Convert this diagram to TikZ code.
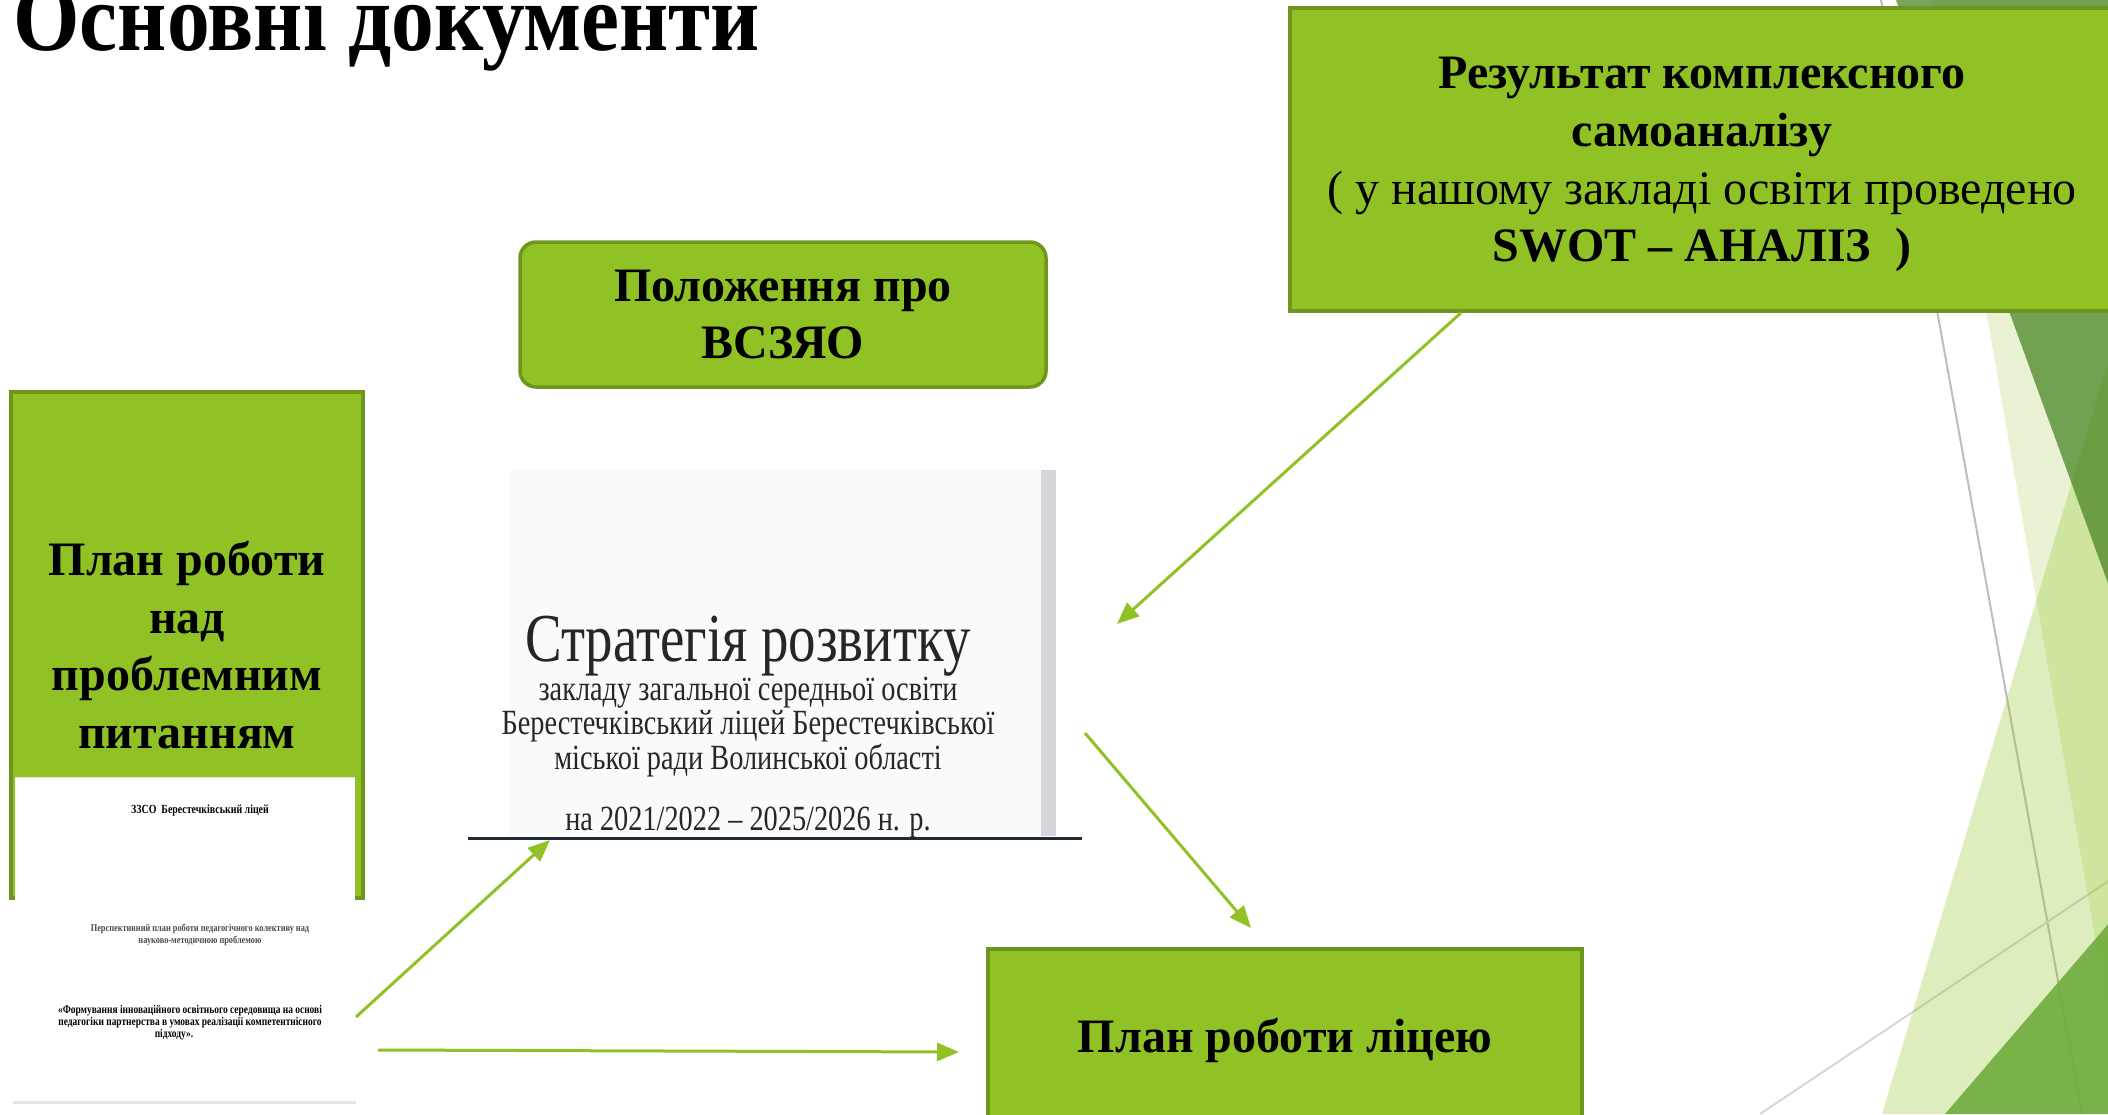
\documentclass[tikz,border=0pt]{standalone}
\usepackage{fontspec}
\setmainfont{Liberation Serif}
\newfontfamily\narrowserif{Liberation Serif}[FakeStretch=0.8]
\newfontfamily\titleserif{Liberation Serif}[FakeStretch=0.89]
\usetikzlibrary{arrows.meta}
\definecolor{facetgreen}{HTML}{90C226}
\definecolor{boxline}{HTML}{6E951D}
\definecolor{darkfacet}{RGB}{76,134,40}
\definecolor{midfacet}{RGB}{112,172,62}
\definecolor{pagebar}{HTML}{D5D5DA}
\definecolor{pageline}{HTML}{1F2C38}

\begin{document}
\begin{tikzpicture}[x=0.5pt,y=-0.5pt,
greenbox/.style={draw=boxline,line width=1.75pt,fill=facetgreen,inner sep=0pt,align=center,font=\fontsize{24}{28.8}\selectfont\bfseries},
arr/.style={draw=facetgreen,line width=1.5pt,-{Triangle[length=11pt,width=9pt]}},
strtext/.style={anchor=base,inner sep=0pt,align=center,text=black!85,font=\narrowserif\fontsize{17.7}{15.9}\selectfont},
doctext/.style={anchor=base,inner sep=0pt,font=\narrowserif\fontsize{5.9}{6}\selectfont\bfseries}]
\useasboundingbox (0,0) rectangle (2108,1114);
\clip (0,0) rectangle (2108,1114);
% facets on the right
\draw[line width=1pt,black!26] (1881,0)--(2082,1114);
\draw[line width=1pt,black!16] (1760,1114)--(2110,880);
\fill[facetgreen,opacity=.2] (1932,0)--(2110,0)--(2110,1023)--cycle;
\fill[facetgreen,opacity=.3] (1882,1114)--(2110,355)--(2110,1114)--cycle;
\fill[darkfacet,opacity=.75] (1896,0)--(2110,0)--(2110,589)--cycle;
\fill[midfacet,opacity=.9] (1945,1114)--(2110,922)--(2110,1114)--cycle;

\node[anchor=base west,inner sep=0pt,font=\titleserif\fontsize{48}{50}\selectfont\bfseries] (title) at (13,50) {Основні документи};

\node[greenbox,minimum width=412pt,minimum height=151.5pt] (samo) at (1702,159.5)
{\rule{0pt}{21pt}Результат комплексного\\самоаналізу\\{\mdseries ( у нашому закладі освіти проведено}\\SWOT – АНАЛІЗ~~)};
\node[greenbox,rounded corners=8pt,minimum width=263pt,minimum height=72.5pt] (polozh) at (783,314.5) {Положення про\\ВСЗЯО};
\node[greenbox,minimum width=176pt,minimum height=253pt] (planleft) at (187,645) {План роботи\\над\\проблемним\\питанням};
\node[greenbox,minimum width=297pt,minimum height=91pt] (liceum) at (1285,1040) {План роботи ліцею};

% strategy page
\fill[black!2] (509,470) rectangle (1041,836);
\fill[pagebar] (1041,470) rectangle (1056,836);
\draw[pageline,line width=1.5pt] (468,838)--(1082,838);
\node[strtext,font=\narrowserif\fontsize{34.3}{36}\selectfont] (str1) at (748,661) {Стратегія розвитку};
\node[strtext] (str2) at (748,769) {закладу загальної середньої освіти\\Берестечківський ліцей Берестечківської\\міської ради Волинської області};
\node[strtext] (str5) at (748,830) {на 2021/2022 – 2025/2026 н. р.};

% plan page
\fill[white] (15,777) rectangle (355,1102);
\draw[black!10,line width=.5pt] (15,777.5)--(355,777.5);
\draw[black!10,line width=1.5pt] (13,1102)--(356,1102);
\node[doctext,font=\narrowserif\fontsize{6.2}{6}\selectfont\bfseries] (doc1) at (200,813) {ЗЗСО\ \ Берестечківський ліцей};
\node[doctext,text=black!70,font=\narrowserif\fontsize{5.2}{6}\selectfont\bfseries] (doc2) at (200,931) {Перспективний план роботи педагогічного колективу над};
\node[doctext,text=black!70,font=\narrowserif\fontsize{5.2}{6}\selectfont\bfseries] (doc3) at (200,943) {науково-методичною проблемою};
\node[doctext] (doc4) at (190,1013) {«Формування інноваційного освітнього середовища на основі};
\node[doctext] (doc5) at (190,1025) {педагогіки партнерства в умовах реалізації компетентнісного};
\node[doctext] (doc6) at (174,1037) {підходу».};

% arrows
\coordinate (toStrat) at (1117,624);
\coordinate (fromStrat) at (1085,733);
\coordinate (toLiceum) at (1251,928);
\coordinate (fromPlan) at (356,1017);
\coordinate (toStratB) at (550,840);
\coordinate (fromPlanB) at (378,1050);
\coordinate (toLiceumB) at (959,1052);
\draw[arr] ([xshift=-120.5pt]samo.south)--(toStrat);
\draw[arr] (fromStrat)--(toLiceum);
\draw[arr] (fromPlan)--(toStratB);
\draw[arr] (fromPlanB)--(toLiceumB);
\end{tikzpicture}
\end{document}
